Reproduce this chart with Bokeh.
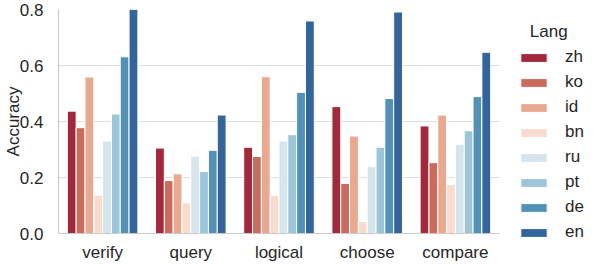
from bokeh.plotting import figure
from bokeh.models import (ColumnDataSource, FactorRange, Range1d, Legend, LegendItem,
                          FixedTicker, CustomJSTickFormatter)
from bokeh.transform import dodge
from bokeh.embed import file_html
from bokeh.resources import INLINE

cats = ["verify", "query", "logical", "choose", "compare"]
langs = ["zh", "ko", "id", "bn", "ru", "pt", "de", "en"]

zh = [0.437, 0.305, 0.308, 0.453, 0.384]
ko = [0.378, 0.189, 0.275, 0.179, 0.253]
id_ = [0.559, 0.213, 0.560, 0.348, 0.423]
bn = [0.137, 0.109, 0.136, 0.043, 0.175]
ru = [0.330, 0.276, 0.330, 0.239, 0.318]
pt = [0.427, 0.221, 0.353, 0.308, 0.367]
de = [0.631, 0.297, 0.504, 0.482, 0.489]
en = [0.800, 0.423, 0.759, 0.791, 0.647]

y_ticks = [0.0, 0.2, 0.4, 0.6, 0.8]

colors = ["#a2293b", "#c96b5d", "#e8a990", "#f8dccd",
          "#d5e4ed", "#9cc5d9", "#5391b6", "#33659b"]

FONT = "Liberation Sans"
TXT = "#262626"
FS = "17px"

source = ColumnDataSource(dict(cat=cats, zh=zh, ko=ko, id=id_, bn=bn,
                               ru=ru, pt=pt, de=de, en=en))

p = figure(x_range=FactorRange(factors=cats), y_range=Range1d(0, 0.8),
           frame_width=441, frame_height=224,
           output_backend="svg", toolbar_location=None,
           min_border_left=55, min_border_right=92,
           min_border_top=9, min_border_bottom=0)

renderers = []
n = len(langs)
bw = 0.8 / n
for i, lang in enumerate(langs):
    off = -0.4 + bw * (i + 0.5)
    r = p.vbar(x=dodge("cat", off, range=p.x_range), top=lang, width=bw,
               source=source, fill_color=colors[i], line_color="white",
               line_width=1)
    renderers.append(r)

p.outline_line_color = None
p.xgrid.grid_line_color = None
p.ygrid.grid_line_color = "#dedede"
p.ygrid.grid_line_width = 1.1

p.yaxis.ticker = FixedTicker(ticks=y_ticks)
p.yaxis.formatter = CustomJSTickFormatter(code="return tick.toFixed(1);")

for ax in (p.xaxis, p.yaxis):
    ax.major_tick_line_color = None
    ax.minor_tick_line_color = None
    ax.axis_line_color = "#cccccc"
    ax.axis_line_width = 1.2
    ax.major_label_text_font = FONT
    ax.major_label_text_font_size = FS
    ax.major_label_text_color = TXT

p.yaxis.axis_label = "Accuracy"
p.yaxis.axis_label_text_font = FONT
p.yaxis.axis_label_text_font_size = FS
p.yaxis.axis_label_text_font_style = "normal"
p.yaxis.axis_label_text_color = TXT
p.yaxis.axis_label_standoff = -6
p.yaxis.major_label_standoff = 9
p.xaxis.major_label_standoff = 3

legend = Legend(items=[LegendItem(label=l, renderers=[r]) for l, r in zip(langs, renderers)],
                location=(18, -9), orientation="vertical",
                title="\u00a0\u00a0\u2009Lang", title_text_font=FONT, title_text_font_size=FS,
                title_text_color=TXT, title_text_font_style="normal",
                title_standoff=5,
                glyph_width=33, glyph_height=11, label_standoff=15,
                label_height=20, spacing=5, padding=0, margin=0,
                label_text_font=FONT, label_text_font_size=FS,
                label_text_color=TXT, border_line_color=None,
                background_fill_alpha=0)
p.add_layout(legend, "right")

open("out.html", "w").write(file_html(p, INLINE))
